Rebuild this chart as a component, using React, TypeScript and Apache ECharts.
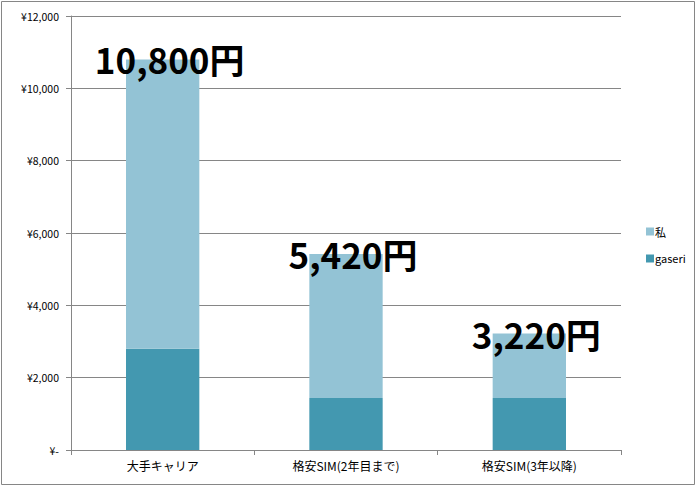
import React, { useEffect, useRef } from "react";
import * as echarts from "echarts";

const categories = ["大手キャリア", "格安SIM(2年目まで)", "格安SIM(3年以降)"];
const gaseriValues = [2800, 1440, 1440];
const watashiValues = [8000, 3980, 1780];
const totals = [10800, 5420, 3220];
const seriesNames = ["私", "gaseri"];

const FONT = "'Noto Sans CJK JP', 'Noto Sans', sans-serif";

export default function App() {
  const ref = useRef<HTMLDivElement>(null);
  useEffect(() => {
    document.body.style.margin = "0";
    const chart = echarts.init(ref.current!, null, { renderer: "svg" });
    chart.setOption({
      animation: false,
      backgroundColor: "#ffffff",
      textStyle: { fontFamily: FONT },
      graphic: [
        {
          type: "rect",
          shape: { x: 1.5, y: 1.5, width: 693, height: 483 },
          style: { fill: "none", stroke: "#868686", lineWidth: 1 },
          silent: true,
        },
      ],
      grid: { left: 71, right: 79, top: 16, bottom: 37, containLabel: false },
      legend: {
        orient: "vertical",
        left: 641,
        top: 221,
        itemWidth: 8,
        itemHeight: 8,
        itemGap: 16,
        icon: "rect",
        data: [seriesNames[0], seriesNames[1]],
        textStyle: { fontSize: 11, color: "#000", fontFamily: FONT, padding: [0, 0, 0, -4] },
      },
      xAxis: {
        type: "category",
        data: categories,
        axisLine: { lineStyle: { color: "#868686" } },
        axisTick: { show: true, length: 5, alignWithLabel: false, lineStyle: { color: "#868686" } },
        axisLabel: { fontSize: 12, color: "#000", margin: 9, fontFamily: FONT },
      },
      yAxis: {
        type: "value",
        min: 0,
        max: 12000,
        interval: 2000,
        axisLine: { show: true, lineStyle: { color: "#868686" } },
        axisTick: { show: true, length: 5, lineStyle: { color: "#868686" } },
        splitLine: { show: true, lineStyle: { color: "#868686" } },
        axisLabel: {
          fontSize: 10.5,
          color: "#000",
          margin: 12,
          fontFamily: FONT,
          formatter: (v: number) => (v === 0 ? "¥-" : "¥" + v.toLocaleString("en-US")),
        },
      },
      series: [
        {
          name: seriesNames[1],
          type: "bar",
          stack: "total",
          barWidth: "40%",
          data: gaseriValues,
          itemStyle: { color: "#4398B0" },
        },
        {
          name: seriesNames[0],
          type: "bar",
          stack: "total",
          barWidth: "40%",
          data: watashiValues,
          itemStyle: { color: "#93C3D5" },
          label: {
            show: true,
            position: "top",
            distance: 0,
            offset: [7, 17],
            fontSize: 35,
            lineHeight: 35,
            fontWeight: "bold",
            color: "#000",
            fontFamily: FONT,
            formatter: (p: any) => totals[p.dataIndex].toLocaleString("en-US") + "円",
          },
        },
      ],
    });
    return () => chart.dispose();
  }, []);
  return <div ref={ref} style={{ width: 700, height: 487 }} />;
}
